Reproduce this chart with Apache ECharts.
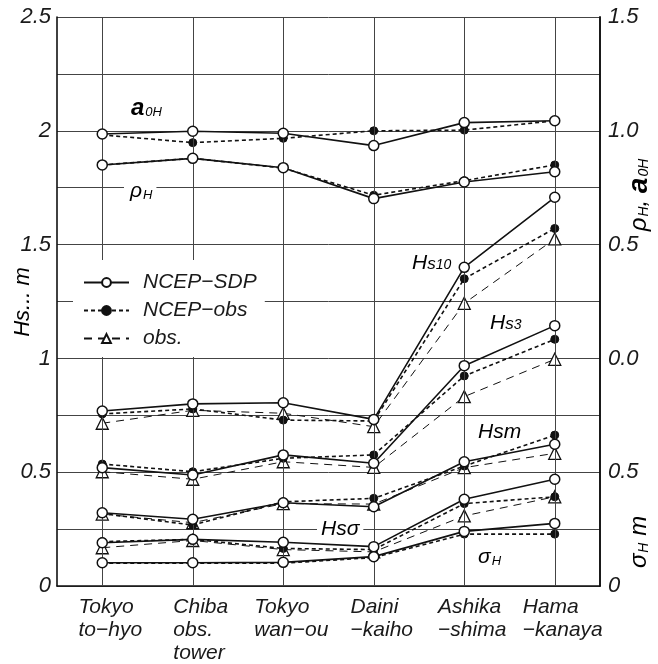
<!DOCTYPE html>
<html>
<head>
<meta charset="utf-8">
<script src="https://cdn.jsdelivr.net/npm/echarts@6/dist/echarts.min.js"></script>
<style>
  html, body { margin: 0; padding: 0; background: #fff; }
  #chart { width: 658px; height: 664px; }
</style>
</head>
<body>
<div id="chart"></div>
<script>
// Stations along the bay
const stations = ['Tokyo\nto−hyo', 'Chiba\nobs.\ntower', 'Tokyo\nwan−ou', 'Daini\n−kaiho', 'Ashika\n−shima', 'Hama\n−kanaya'];

// Source names shown in the legend
const SRC_SDP = 'NCEP−SDP';
const SRC_NOBS = 'NCEP−obs';
const SRC_OBS = 'obs.';

// Correlation coefficient and slope (right axis, upper scale)
const a0H_sdp  = [0.986, 0.998, 0.989, 0.935, 1.036, 1.044];
const a0H_nobs = [0.982, 0.948, 0.967, 1.000, 1.003, 1.044];
const rhoH_sdp  = [0.850, 0.879, 0.838, 0.702, 0.775, 0.820];
const rhoH_nobs = [0.850, 0.879, 0.836, 0.717, 0.781, 0.850];

// Wave height statistics, m (left axis)
const hs10_sdp  = [0.769, 0.800, 0.805, 0.732, 1.400, 1.708];
const hs10_nobs = [0.756, 0.778, 0.729, 0.725, 1.350, 1.571];
const hs10_obs  = [0.715, 0.772, 0.759, 0.700, 1.242, 1.525];

const hs3_sdp  = [0.520, 0.488, 0.576, 0.539, 0.968, 1.144];
const hs3_nobs = [0.536, 0.502, 0.561, 0.576, 0.923, 1.084];
const hs3_obs  = [0.502, 0.469, 0.546, 0.521, 0.832, 0.996];

const hsm_sdp  = [0.322, 0.293, 0.366, 0.348, 0.546, 0.623];
const hsm_nobs = [0.318, 0.268, 0.370, 0.385, 0.527, 0.663];
const hsm_obs  = [0.316, 0.278, 0.362, 0.360, 0.520, 0.583];

const hss_sdp  = [0.190, 0.205, 0.192, 0.173, 0.381, 0.469];
const hss_nobs = [0.195, 0.205, 0.165, 0.160, 0.362, 0.392];
const hss_obs  = [0.168, 0.200, 0.160, 0.150, 0.308, 0.392];

// Standard deviation of the error, m (right axis, lower scale)
const sigH_sdp  = [0.102, 0.102, 0.104, 0.129, 0.240, 0.275];
const sigH_nobs = [0.100, 0.100, 0.100, 0.125, 0.228, 0.228];

// Tick labels
const leftTicks = { 0: '0', 0.5: '0.5', 1: '1', 1.5: '1.5', 2: '2', 2.5: '2.5' };
const rhoTicks = { 0: '0.0', 0.5: '0.5', 1: '1.0', 1.5: '1.5' };
const sigTicks = { 0: '0', 0.5: '0.5' };

const FONT = 'Liberation Sans';
const INK = '#1a1a1a';
const txt = { fontFamily: FONT, fontStyle: 'italic', fontSize: 21, color: INK };

const styles = {
  [SRC_SDP]: {
    symbol: 'circle', symbolSize: 10,
    itemStyle: { color: '#fff', borderColor: '#111', borderWidth: 1.5 },
    lineStyle: { color: '#111', width: 1.6, type: 'solid' },
    z: 5
  },
  [SRC_NOBS]: {
    symbol: 'circle', symbolSize: 8,
    itemStyle: { color: '#111', borderColor: '#111', borderWidth: 1 },
    lineStyle: { color: '#111', width: 1.6, type: [4, 3] },
    z: 4
  },
  [SRC_OBS]: {
    symbol: 'triangle', symbolSize: 12,
    itemStyle: { color: '#fff', borderColor: '#111', borderWidth: 1.3 },
    lineStyle: { color: '#111', width: 1, type: [8, 6] },
    z: 3
  }
};

function line(name, data, yAxisIndex) {
  const s = styles[name];
  return {
    type: 'line', name, data, yAxisIndex: yAxisIndex || 0,
    symbol: s.symbol, symbolSize: s.symbolSize,
    itemStyle: s.itemStyle, lineStyle: s.lineStyle,
    z: s.z, silent: true, animation: false
  };
}

const series = [
  line(SRC_OBS, hs10_obs), line(SRC_OBS, hs3_obs), line(SRC_OBS, hsm_obs), line(SRC_OBS, hss_obs),
  line(SRC_NOBS, hs10_nobs), line(SRC_NOBS, hs3_nobs), line(SRC_NOBS, hsm_nobs), line(SRC_NOBS, hss_nobs),
  line(SRC_NOBS, a0H_nobs, 1), line(SRC_NOBS, rhoH_nobs, 1), line(SRC_NOBS, sigH_nobs, 2),
  line(SRC_SDP, hs10_sdp), line(SRC_SDP, hs3_sdp), line(SRC_SDP, hsm_sdp), line(SRC_SDP, hss_sdp),
  line(SRC_SDP, a0H_sdp, 1), line(SRC_SDP, rhoH_sdp, 1), line(SRC_SDP, sigH_sdp, 2)
];

// Vertical guide at every station
series[0].markLine = {
  silent: true, symbol: 'none', label: { show: false }, animation: false,
  lineStyle: { color: '#444', width: 1, type: 'solid' },
  data: stations.map((_, i) => ({ xAxis: i }))
};

const subRich = {
  i: { fontFamily: FONT, fontStyle: 'italic', fontSize: 21, color: INK },
  ib: { fontFamily: FONT, fontStyle: 'italic', fontWeight: 'bold', fontSize: 24, color: INK },
  s: { fontFamily: FONT, fontStyle: 'italic', fontSize: 13, color: INK, padding: [9, 0, 0, 1] },
  m: { fontFamily: FONT, fontStyle: 'italic', fontSize: 17, color: INK, padding: [3, 0, 0, 0] },
  d: { fontFamily: FONT, fontStyle: 'italic', fontSize: 14, color: INK, padding: [5, 0, 0, 0] },
  // larger set for the axis titles
  I: { fontFamily: FONT, fontStyle: 'italic', fontSize: 24, color: INK },
  B: { fontFamily: FONT, fontStyle: 'italic', fontWeight: 'bold', fontSize: 28, color: INK },
  S: { fontFamily: FONT, fontStyle: 'italic', fontSize: 14, color: INK, padding: [10, 0, 0, 1] },
  T: { fontFamily: FONT, fontStyle: 'italic', fontSize: 22, color: INK }
};

function label(x, y, text, extra) {
  return {
    type: 'text', x, y, z: 10,
    style: Object.assign({ text, rich: subRich, verticalAlign: 'middle', align: 'left' }, extra || {})
  };
}

function axisTitle(x, y, text) {
  return {
    type: 'text', x, y, rotation: Math.PI / 2, z: 10,
    style: { text, rich: subRich, align: 'center', verticalAlign: 'middle' }
  };
}

const option = {
  backgroundColor: '#fff',
  animation: false,
  grid: { left: 57, right: 58, top: 17, bottom: 78, containLabel: false, outerBoundsMode: 'none' },
  legend: {
    orient: 'vertical', left: 73, top: 260,
    padding: [12, 8, 8, 10], backgroundColor: '#fff',
    itemWidth: 45, itemHeight: 11, itemGap: 7,
    textStyle: Object.assign({}, txt, { lineHeight: 20, padding: [0, 0, 0, 9] }),
    data: [SRC_SDP, SRC_NOBS, SRC_OBS],
    selectedMode: false, z: 8
  },
  xAxis: {
    type: 'category', data: stations, boundaryGap: true,
    axisLine: { lineStyle: { color: '#111', width: 1.6 } },
    axisTick: { show: false },
    splitLine: { show: false },
    axisLabel: {
      interval: 0, margin: 10, align: 'center', padding: [0, 0, 0, 16],
      formatter: v => v.split('\n').map(t => '{l|' + t + '}').join('\n'),
      rich: { l: Object.assign({}, txt, { align: 'left', lineHeight: 23 }) }
    }
  },
  yAxis: [
    {
      type: 'value', min: 0, max: 2.5, interval: 0.25, position: 'left',
      axisLine: { show: true, lineStyle: { color: '#111', width: 1.6 } },
      axisTick: { show: false },
      axisLabel: Object.assign({}, txt, { fontSize: 22, margin: 6, formatter: v => leftTicks[v] !== undefined ? leftTicks[v] : '' }),
      splitLine: { show: true, lineStyle: { color: '#444', width: 1 } }
    },
    {
      type: 'value', min: -1, max: 1.5, interval: 0.5, position: 'right',
      axisLine: { show: true, lineStyle: { color: '#111', width: 1.6 } },
      axisTick: { show: false },
      axisLabel: Object.assign({}, txt, { fontSize: 22, margin: 8, formatter: v => rhoTicks[v] !== undefined ? rhoTicks[v] : '' }),
      splitLine: { show: false }
    },
    {
      type: 'value', min: 0, max: 2.5, interval: 0.5, position: 'right',
      axisLine: { show: true, lineStyle: { color: '#111', width: 1.6 } },
      axisTick: { show: false },
      axisLabel: Object.assign({}, txt, { fontSize: 22, margin: 8, formatter: v => sigTicks[v] !== undefined ? sigTicks[v] : '' }),
      splitLine: { show: false }
    }
  ],
  graphic: [
    label(131, 108, '{ib|a}{s|0H}'),
    label(124, 191, '{i|ρ}{s|H}', { backgroundColor: '#fff', padding: [0, 4, 0, 6] }),
    label(412, 263, '{i|H}{m|s}{d|10}'),
    label(490, 323, '{i|H}{m|s}{d|3}'),
    label(478, 432, '{i|Hsm}'),
    label(317, 529, '{i|Hsσ}', { backgroundColor: '#fff', padding: [0, 4, 0, 4] }),
    label(478, 557, '{i|σ}{s|H}'),
    axisTitle(23, 302, '{T|Hs... m}'),
    axisTitle(639, 195, '{I|ρ}{S|H}{I|, }{B|a}{S|0H}'),
    axisTitle(639, 542, '{I|σ}{S|H}{I| m}')
  ],
  series
};

const chart = echarts.init(document.getElementById('chart'), null, { renderer: 'canvas' });
chart.setOption(option);
</script>
</body>
</html>
